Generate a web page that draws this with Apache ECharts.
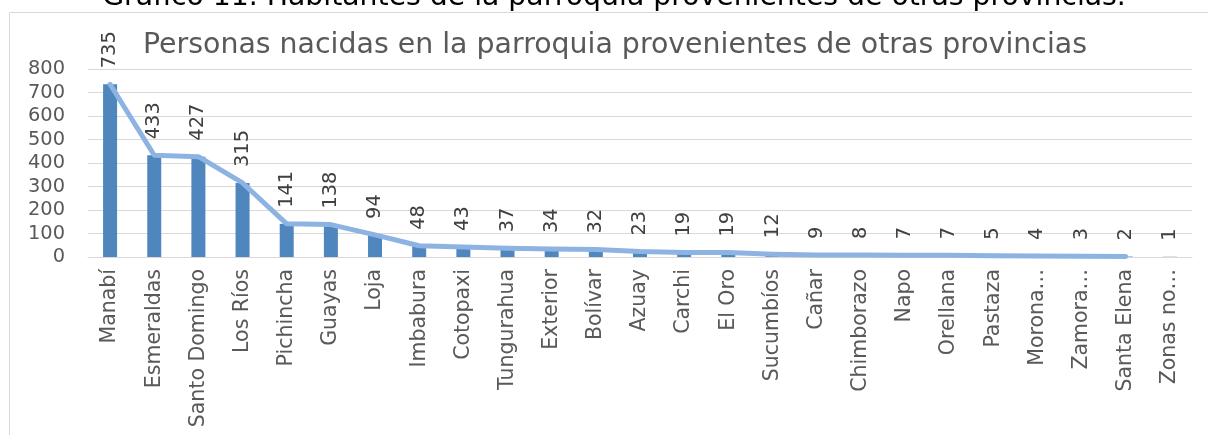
<!DOCTYPE html>
<html>
<head>
<meta charset="utf-8">
<script src="https://cdn.jsdelivr.net/npm/echarts@6/dist/echarts.min.js"></script>
<style>
html,body{margin:0;padding:0;background:#fff;}
#c{width:1208px;height:435px;}
</style>
</head>
<body>
<div id="c"></div>
<script>
const categories = ["Manabí","Esmeraldas","Santo Domingo","Los Ríos","Pichincha","Guayas","Loja","Imbabura","Cotopaxi","Tungurahua","Exterior","Bolívar","Azuay","Carchi","El Oro","Sucumbíos","Cañar","Chimborazo","Napo","Orellana","Pastaza","Morona…","Zamora…","Santa Elena","Zonas no…"];
const barValues = [735,433,427,315,141,138,94,48,43,37,34,32,23,19,19,12,9,8,7,7,5,4,3,2,1];
const lineValues = [735,433,427,315,141,138,94,48,43,37,34,32,23,19,19,12,9,8,7,7,5,4,3,2,null];
const yTicks = [0,100,200,300,400,500,600,700,800];
const figureTitle = "Gráfico 11. Habitantes de la parroquia provenientes de otras provincias.";
const chartTitle = "Personas nacidas en la parroquia provenientes de otras provincias";

const FONT = "DejaVu Sans";
const mctx = document.createElement('canvas').getContext('2d');
function fitSize(text, width){
  mctx.font = '100px "' + FONT + '"';
  return Math.round(100 * width / mctx.measureText(text).width * 10) / 10;
}
const figTitleSize = fitSize(figureTitle, 1025);
const chartTitleSize = fitSize(chartTitle, 944);
const xLabelSize = fitSize("Santo Domingo", 158);
const yLabelSize = fitSize("800", 37);
const dataLabelSize = fitSize("433", 37);
const MID = 0.35; // distance from 'middle' to alphabetic baseline, in em

const chart = echarts.init(document.getElementById('c'), null, {renderer:'canvas'});
chart.setOption({
  animation:false,
  textStyle:{fontFamily:FONT},
  graphic:[
    {type:'rect', shape:{x:9.5,y:12.5,width:1300,height:600}, style:{fill:'none',stroke:'#d9d9d9',lineWidth:1}, z:-1},
    {type:'text', x:614, y:7.5 - MID*figTitleSize, style:{text:figureTitle, font:figTitleSize+'px "'+FONT+'"', fill:'#000', textAlign:'center', textVerticalAlign:'middle'}},
    {type:'text', x:143, y:56 - MID*chartTitleSize, style:{text:chartTitle, font:chartTitleSize+'px "'+FONT+'"', fill:'#595959', textAlign:'left', textVerticalAlign:'middle'}}
  ],
  grid:{left:88,right:16,top:69,bottom:178,containLabel:false},
  xAxis:{
    type:'category', data:categories,
    axisLine:{show:true,lineStyle:{color:'#d9d9d9',width:1}},
    axisTick:{show:false},
    axisLabel:{rotate:90,interval:0,fontSize:xLabelSize,color:'#595959',margin:12,fontFamily:FONT}
  },
  yAxis:{
    type:'value', min:0, max:800, interval:100,
    axisLine:{show:false}, axisTick:{show:false},
    axisLabel:{fontSize:yLabelSize,color:'#595959',margin:23,fontFamily:FONT,
      formatter:v=>yTicks.includes(v)?String(v):''},
    splitLine:{lineStyle:{color:'#d9d9d9',width:1}}
  },
  series:[
    {type:'bar', data:barValues, barWidth:14, itemStyle:{color:'#4F86BE'},
     label:{show:true,position:'top',distance:16,rotate:90,align:'left',verticalAlign:'middle',
            fontSize:dataLabelSize,color:'#404040',fontFamily:FONT}},
    {type:'line', data:lineValues, symbol:'none', smooth:false, connectNulls:false,
     lineStyle:{color:'#8DB3E2',width:5,cap:'round',join:'round'}, z:3}
  ]
});
</script>
</body>
</html>
